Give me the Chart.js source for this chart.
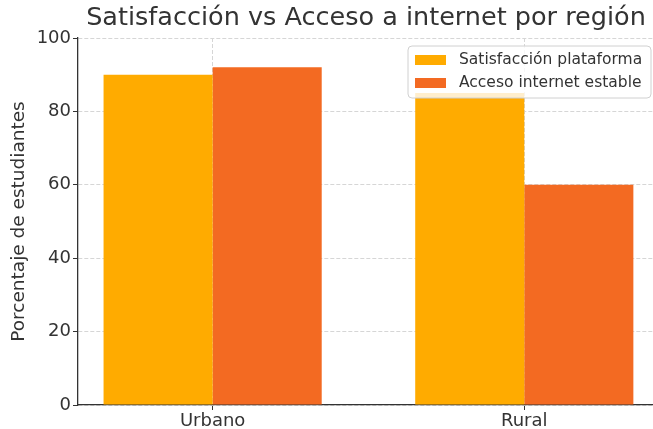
<!DOCTYPE html>
<html>
<head>
<meta charset="utf-8">
<script src="https://cdn.jsdelivr.net/npm/chart.js@4"></script>
<style>
  html, body { margin: 0; padding: 0; background: #fff; overflow: hidden; }
  #wrap { width: 653px; height: 429px; position: relative; }
</style>
</head>
<body>
<div id="wrap"><canvas id="barChart"></canvas></div>
<script>
'use strict';

// Datos del gráfico
const categories = ['Urbano', 'Rural'];
const satisfaccion = [90, 85];
const acceso = [92, 60];
const yTicks = [0, 20, 40, 60, 80, 100];
const seriesNames = ['Satisfacción plataforma', 'Acceso internet estable'];
const seriesColors = ['#FFAB00', '#F36A22'];

const FONT = 'DejaVu Sans';
const TEXT = '#333333';

function toPoints(values) {
  let points = [];
  for (let i = 0; i < values.length; i++) {
    points.push({ x: i, y: values[i] });
  }
  return points;
}

// title centred over the axes, like matplotlib
const axesTitle = {
  id: 'axesTitle',
  afterDraw(chart) {
    const c = chart.ctx;
    const area = chart.chartArea;
    c.save();
    c.font = '25.5px "' + FONT + '"';
    c.fillStyle = TEXT;
    c.textAlign = 'center';
    c.textBaseline = 'middle';
    c.fillText('Satisfacción vs Acceso a internet por región', (area.left + 654) / 2, 18);
    c.restore();
  }
};

// framed legend in the upper right corner
const boxLegend = {
  id: 'boxLegend',
  afterDatasetsDraw(chart) {
    const c = chart.ctx;
    const x = 408, y = 46, w = 243, h = 52, r = 4;
    c.save();
    c.beginPath();
    c.roundRect(x, y, w, h, r);
    c.fillStyle = 'rgba(255,255,255,0.8)';
    c.fill();
    c.strokeStyle = '#d0d0d0';
    c.lineWidth = 1;
    c.stroke();
    c.font = '15.5px "' + FONT + '"';
    c.textBaseline = 'middle';
    chart.data.datasets.forEach((ds, i) => {
      const rowY = y + 14 + i * 23;
      c.fillStyle = ds.backgroundColor;
      c.fillRect(x + 7, rowY - 5, 31, 10);
      c.fillStyle = TEXT;
      c.fillText(ds.label, x + 51, rowY);
    });
    c.restore();
  }
};

const ctx = document.getElementById('barChart').getContext('2d');

const chartObj = {
  type: 'bar',
  data: {
    datasets: [{
      label: seriesNames[0],
      data: toPoints(satisfaccion),
      backgroundColor: seriesColors[0],
      categoryPercentage: 0.7,
      barPercentage: 1.0
    }, {
      label: seriesNames[1],
      data: toPoints(acceso),
      backgroundColor: seriesColors[1],
      categoryPercentage: 0.7,
      barPercentage: 1.0
    }]
  },
  options: {
    responsive: true,
    maintainAspectRatio: false,
    animation: false,
    layout: { padding: { top: 38, right: 0, left: 0, bottom: 0 } },
    plugins: {
      legend: { display: false },
      title: { display: false },
      tooltip: { enabled: false }
    },
    scales: {
      x: {
        type: 'linear',
        offset: false,
        min: -0.432,
        max: 1.413,
        afterBuildTicks(scale) {
          scale.ticks = categories.map((c, i) => ({ value: i }));
        },
        afterFit(scale) { scale.height = 24; },
        ticks: {
          color: TEXT,
          font: { family: FONT, size: 18 },
          padding: 1,
          maxRotation: 0,
          callback: (value) => categories[value]
        },
        grid: {
          offset: false,
          color: '#d6d6d6',
          lineWidth: 1,
          tickLength: 5,
          tickColor: TEXT,
          tickBorderDash: []
        },
        border: { color: TEXT, width: 1.3, dash: [4, 2] }
      },
      y: {
        min: 0,
        max: 100,
        afterBuildTicks(scale) {
          scale.ticks = yTicks.map(v => ({ value: v }));
        },
        afterFit(scale) { scale.width = 78; },
        ticks: {
          color: TEXT,
          font: { family: FONT, size: 18 },
          padding: 2
        },
        title: {
          display: true,
          text: 'Porcentaje de estudiantes',
          color: TEXT,
          font: { family: FONT, size: 18.5 },
          padding: { top: 8, bottom: 0 }
        },
        grid: {
          color: '#d6d6d6',
          lineWidth: 1,
          tickLength: 5,
          tickColor: TEXT,
          tickBorderDash: []
        },
        border: { color: TEXT, width: 1.3, dash: [4, 2] }
      }
    }
  },
  plugins: [axesTitle, boxLegend]
};

const myChart = new Chart(ctx, chartObj);
</script>
</body>
</html>
